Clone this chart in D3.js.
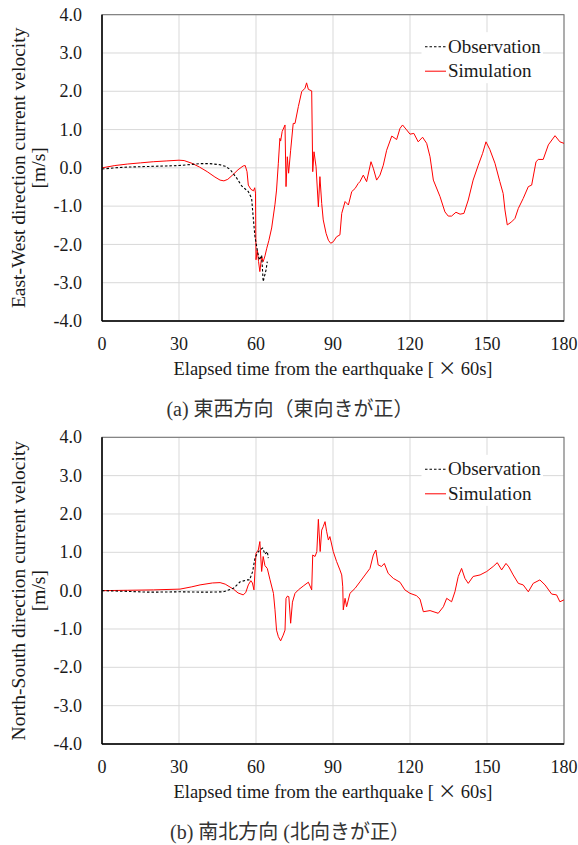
<!DOCTYPE html>
<html>
<head>
<meta charset="utf-8">
<script src="https://cdn.jsdelivr.net/npm/d3@7"></script>
<style>
body { margin: 0; background: #fff; }
text { font-family: "Liberation Serif", "Noto Sans CJK JP", serif; fill: #1a1a1a; }
.grid { stroke: #d9d9d9; stroke-width: 1; }
.frame { fill: none; stroke: #6e6e6e; stroke-width: 1; }
.axisLine { stroke: #000; stroke-width: 1.5; }
.tick { font-size: 18px; }
.title { font-size: 18.5px; }
.ytitle { font-size: 19.5px; }
.legendText { font-size: 19px; }
.caption { font-size: 20px; fill: #333; }
.sim { fill: none; stroke: #ff0000; stroke-width: 1; }
.obs { fill: none; stroke: #000; stroke-width: 1.1; stroke-dasharray: 2.5,2; }
</style>
</head>
<body>
<div id="chart"></div>
<script>
//Global variables
const width = 578;
const height = 845;
const left = 102;
const right = 564;

//Tick values
const xTicks = [0, 30, 60, 90, 120, 150, 180];
const yTicks = [4, 3, 2, 1, 0, -1, -2, -3, -4];
const legendLabels = ["Observation", "Simulation"];

//East-West data [minutes, m/s]
const ewObs = [[0,-0.03],[5,0.0],[10,0.02],[15,0.03],[20,0.04],[25,0.05],[30,0.06],[35,0.09],[38.2,0.11],[42,0.11],[46,0.08],[48,0.04],[49.9,-0.04],[52.5,-0.27],[54.4,-0.47],[57,-0.62],[58.3,-0.8],[58.9,-1.28],[59.6,-1.8],[60.5,-2.15],[61.3,-2.41],[62.2,-2.28],[62.8,-2.97],[63.9,-2.67],[64.4,-2.45]];

const ewSim = [[0,0.0],[5,0.06],[10,0.1],[15,0.13],[20,0.16],[25,0.18],[30,0.2],[32,0.19],[35,0.12],[38,0.02],[41,-0.1],[44,-0.24],[46,-0.32],[47.5,-0.34],[49,-0.3],[51,-0.18],[53,-0.05],[55,0.05],[55.8,0.06],[56.5,-0.1],[57,-0.45],[58,-0.56],[59,-0.6],[59.5,-0.52],[59.8,-0.66],[60,-2.4],[60.5,-2.15],[61,-2.45],[61.5,-2.71],[62.2,-2.32],[62.8,-2.45],[63.5,-2.3],[64.2,-2.1],[65,-1.9],[66.1,-1.57],[67.4,-0.95],[68,-0.58],[68.7,0.12],[69.3,0.77],[69.6,0.7],[70.2,0.95],[71.3,1.12],[71.7,-0.49],[72.2,0.29],[72.7,-0.14],[73.5,0.46],[74.5,1.16],[75.2,1.16],[76.5,1.6],[77.8,1.99],[79.1,2.08],[79.7,2.22],[80.4,2.05],[81.7,2.01],[82.1,-0.1],[82.6,0.42],[83.4,0.03],[84.3,-1.02],[84.9,-0.23],[85.6,-0.93],[86.2,-1.36],[87.3,-1.71],[88.2,-1.89],[89.1,-1.97],[90.1,-1.93],[91.4,-1.8],[92.7,-1.75],[93.4,-1.19],[94.7,-0.88],[96,-0.97],[97.3,-0.62],[98.6,-0.54],[99.8,-0.41],[100.5,-0.36],[101.8,-0.19],[103.1,-0.36],[104.8,0.16],[105.7,-0.01],[107,-0.32],[108.3,-0.19],[109.6,0.07],[110.9,0.46],[112.9,0.83],[114.8,0.74],[116.1,1.03],[117.1,1.12],[118.7,0.99],[120,0.88],[121.5,0.9],[123.2,0.68],[124.9,0.8],[126.5,0.64],[127.8,0.29],[129.1,-0.32],[131.7,-0.75],[133.6,-1.15],[134.9,-1.26],[136.2,-1.26],[137.9,-1.16],[139.5,-1.21],[141,-1.19],[142.7,-0.84],[144.6,-0.32],[146.6,0.07],[148.3,0.38],[149.6,0.68],[151.1,0.48],[153.1,0.12],[155,-0.36],[156.3,-0.67],[157,-1.1],[157.9,-1.49],[159.6,-1.41],[160.9,-1.32],[162.2,-1.06],[164.1,-0.8],[166.1,-0.49],[167.4,-0.45],[169.1,0.16],[170,0.22],[171.9,0.22],[173.9,0.6],[176.5,0.84],[178.4,0.68],[180,0.64]];

//North-South data [minutes, m/s]
const nsObs = [[0,0.0],[10,-0.02],[18.7,-0.04],[30.4,-0.03],[40,-0.04],[47.3,-0.03],[51.2,0.06],[53.8,0.23],[56.4,0.28],[57.5,0.28],[58.7,0.5],[59.6,0.85],[60.5,0.98],[61.5,1.06],[62.6,1.11],[63.5,0.95],[64.4,1.02],[64.8,0.85]];

const nsSim = [[0,0.0],[10,0.01],[20,0.02],[30.4,0.04],[35,0.1],[38.2,0.15],[43,0.2],[46,0.21],[48,0.17],[51.2,0.04],[53,-0.06],[55,-0.11],[56,-0.05],[57,0.15],[58,0.26],[58.6,0.2],[59.2,0.02],[60,0.98],[60.9,1.06],[61.5,1.28],[62.2,0.5],[62.8,0.89],[63.5,0.65],[64.4,0.58],[65.4,0.3],[66.8,-0.07],[67.4,-0.5],[68,-1.03],[68.7,-1.2],[69.6,-1.31],[70.6,-1.16],[71.3,-1.03],[71.7,-0.2],[72.3,-0.14],[72.8,-0.16],[73.5,-0.85],[74.2,-0.3],[75.2,-0.07],[76.5,0.02],[78.4,0.12],[80.4,0.22],[81.7,0.02],[82.1,0.93],[83,0.89],[83.7,1.02],[84.3,1.86],[85,1.02],[85.6,1.58],[86.2,1.67],[86.9,1.8],[87.5,1.55],[88.2,1.32],[88.8,1.41],[90.1,1.02],[91.4,0.76],[92.7,0.54],[93.4,0.41],[93.8,0.1],[94,-0.5],[94.7,-0.2],[95.3,-0.42],[96.6,-0.07],[98.6,0.06],[100.5,0.23],[102.5,0.41],[104.4,0.58],[105.7,0.93],[106.7,1.06],[107.6,0.67],[108.9,0.63],[110,0.71],[111.5,0.45],[113.5,0.32],[116.1,0.22],[118,0.02],[120,-0.07],[122.5,-0.13],[123.9,-0.22],[125.2,-0.55],[127.8,-0.52],[131,-0.59],[133,-0.42],[134.3,-0.2],[136.2,-0.29],[137.5,-0.03],[138.8,0.37],[140.1,0.58],[141.4,0.32],[142.7,0.19],[144.6,0.37],[147.3,0.41],[149.9,0.5],[152.4,0.63],[154,0.73],[155.7,0.54],[157.4,0.71],[158.5,0.62],[160.2,0.41],[162.2,0.19],[164.1,0.15],[166.1,-0.03],[168,0.19],[170.6,0.28],[172.6,0.15],[175.2,-0.09],[177.1,-0.11],[178.4,-0.29],[180,-0.24]];

const svg = d3.select("#chart")
    .append("svg")
    .attr("width", width)
    .attr("height", height);

//x scale shared by both panels
const xScale = d3.scaleLinear()
    .domain([0, 180])
    .range([left, right]);

//draws one panel, top/bottom are pixel edges of plot area
function drawPanel(top, bottom, obs, sim, yTitle, caption) {
    const yScale = d3.scaleLinear()
        .domain([-4, 4])
        .range([bottom, top]);

    const g = svg.append("g");

    //gridlines
    g.selectAll(".hgrid")
        .data(yTicks)
        .enter()
        .append("line")
        .attr("class", "grid")
        .attr("x1", left)
        .attr("x2", right)
        .attr("y1", d => yScale(d))
        .attr("y2", d => yScale(d));

    g.selectAll(".vgrid")
        .data(xTicks)
        .enter()
        .append("line")
        .attr("class", "grid")
        .attr("x1", d => xScale(d))
        .attr("x2", d => xScale(d))
        .attr("y1", top)
        .attr("y2", bottom);

    //frame
    g.append("rect")
        .attr("class", "frame")
        .attr("x", left)
        .attr("y", top)
        .attr("width", right - left)
        .attr("height", bottom - top);

    //legend box (white, covers grid)
    const lx = 421.5, ly = top + 17.5;
    g.append("rect")
        .attr("x", lx)
        .attr("y", ly)
        .attr("width", 121.5)
        .attr("height", 51)
        .attr("fill", "#fff");

    //lines
    const line = d3.line()
        .x(d => xScale(d[0]))
        .y(d => yScale(d[1]));

    g.append("path")
        .datum(sim)
        .attr("class", "sim")
        .attr("d", line);

    g.append("path")
        .datum(obs)
        .attr("class", "obs")
        .attr("d", line);

    //axes lines
    g.append("line")
        .attr("class", "axisLine")
        .attr("x1", left).attr("x2", left)
        .attr("y1", top).attr("y2", bottom);
    g.append("line")
        .attr("class", "axisLine")
        .attr("x1", left).attr("x2", right)
        .attr("y1", bottom).attr("y2", bottom);

    //tick labels
    g.selectAll(".ylab")
        .data(yTicks)
        .enter()
        .append("text")
        .attr("class", "tick")
        .attr("x", 82)
        .attr("y", d => yScale(d))
        .attr("dy", "0.34em")
        .attr("text-anchor", "end")
        .text(d => d.toFixed(1));

    g.selectAll(".xlab")
        .data(xTicks)
        .enter()
        .append("text")
        .attr("class", "tick")
        .attr("x", d => xScale(d))
        .attr("y", bottom + 29)
        .attr("text-anchor", "middle")
        .text(d => d);

    //axis titles
    const xt = g.append("text")
        .attr("class", "title")
        .attr("x", 333)
        .attr("y", bottom + 54)
        .attr("text-anchor", "middle");
    xt.append("tspan").text("Elapsed time from the earthquake [");
    xt.append("tspan").style("font-family", "Noto Sans CJK JP").text(" × ");
    xt.append("tspan").text("60s]");

    const mid = (top + bottom) / 2;
    g.append("text")
        .attr("class", "ytitle")
        .attr("transform", "translate(25," + mid + ") rotate(-90)")
        .attr("text-anchor", "middle")
        .text(yTitle);
    g.append("text")
        .attr("class", "ytitle")
        .attr("transform", "translate(45," + mid + ") rotate(-90)")
        .attr("text-anchor", "middle")
        .text("[m/s]");

    //legend
    legendLabels.forEach((name, i) => {
        const y = ly + 14.5 + i * 24.5;
        g.append("line")
            .attr("class", i === 0 ? "obs" : "sim")
            .attr("x1", 425).attr("x2", 446)
            .attr("y1", y).attr("y2", y);
        g.append("text")
            .attr("class", "legendText")
            .attr("x", 448)
            .attr("y", y + 6)
            .text(name);
    });

    //caption
    g.append("text")
        .attr("class", "caption")
        .attr("x", 290)
        .attr("y", bottom + 95)
        .attr("text-anchor", "middle")
        .text(caption);
}

drawPanel(14.7, 321, ewObs, ewSim, "East-West direction current velocity", "(a) 東西方向（東向きが正）");
drawPanel(437.3, 744, nsObs, nsSim, "North-South direction current velocity", "(b) 南北方向 (北向きが正）");
</script>
</body>
</html>
